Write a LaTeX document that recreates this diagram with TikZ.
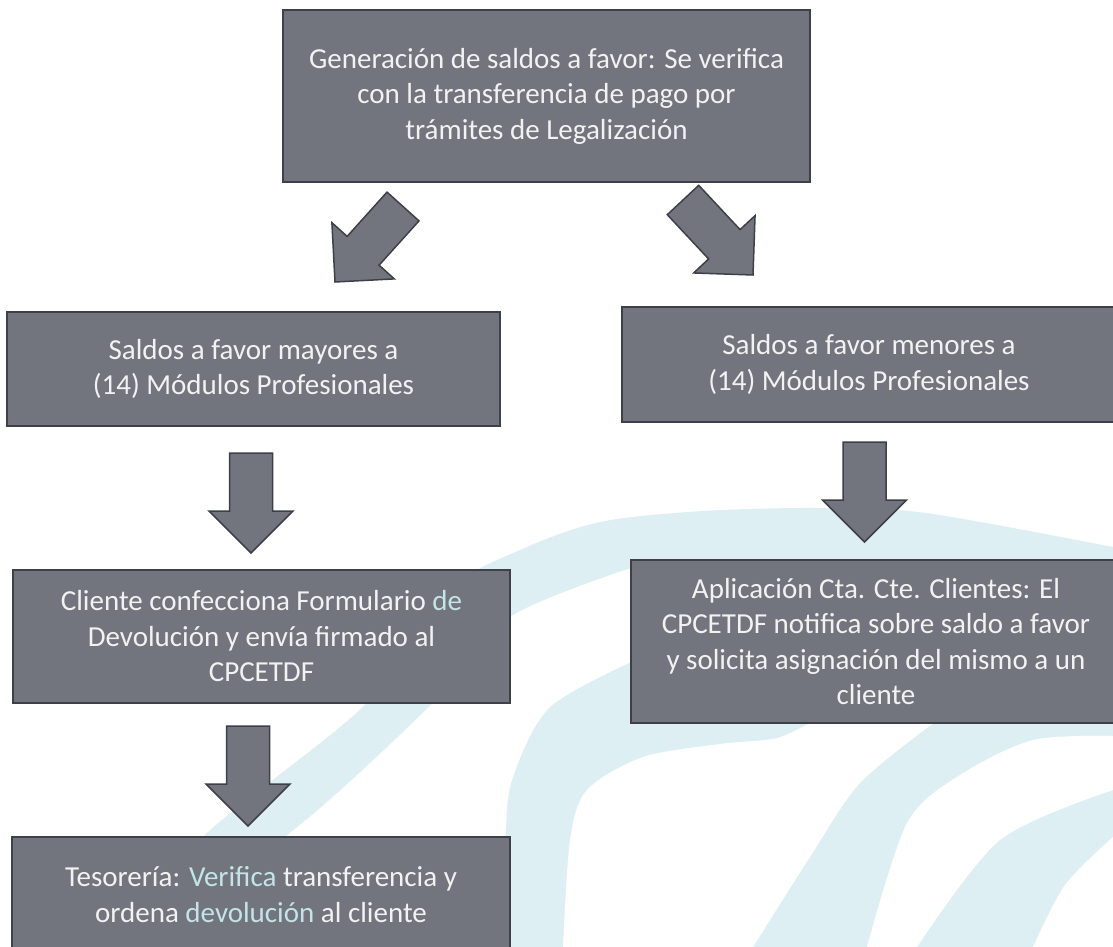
\documentclass[tikz,border=0pt]{standalone}
\usepackage{fontspec}
\setmainfont{Carlito}
\usetikzlibrary{calc}
\definecolor{boxgray}{RGB}{114,117,126}
\definecolor{boxline}{RGB}{62,64,72}
\definecolor{txt}{RGB}{242,242,242}
\definecolor{tint}{RGB}{196,228,232}
\definecolor{wm}{RGB}{221,239,243}
\tikzset{
  stepbox/.style={draw=boxline, line width=1.8pt, fill=boxgray, text=txt,
    align=center, inner sep=0pt, font=\fontsize{29}{35.5}\selectfont},
  blockarr/.style={draw=boxline, line width=1.5pt, fill=boxgray, line join=miter},
  wmark/.style={fill=wm},
}
\newcommand{\blockarrow}[3]{%
  \coordinate (#3h) at ($(#2)!42pt!(#1)$);
  \filldraw[blockarr] ($(#1)!21.5pt!90:(#2)$) -- ($(#3h)!21.5pt!90:(#2)$)
    -- ($(#3h)!42pt!90:(#2)$) -- (#2) -- ($(#3h)!42pt!-90:(#2)$)
    -- ($(#3h)!21.5pt!-90:(#2)$) -- ($(#1)!21.5pt!-90:(#2)$) -- cycle;}
\begin{document}
\begin{tikzpicture}[x=1pt,y=-1pt]
\useasboundingbox (0,0) rectangle (1113,947);
\clip (0,0) rectangle (1113,947);
\fill[white] (0,0) rectangle (1113,947);
% watermark swooshes
\fill[wmark] plot[smooth] coordinates {(100,947) (207,833) (367,703) (450,590) (520,550) (600,522) (703,511) (820,508) (926,513) (1113,547)} -- (1113,947) -- cycle;
\fill[white] plot[smooth] coordinates {(120,947) (290,833) (433,703) (510,617) (640,565)} -- (700,570) -- (700,640) -- plot[smooth] coordinates {(640,658) (550,707) (512,780) (505,840) (495,947)} -- cycle;
\fill[white] plot[smooth] coordinates {(563,947) (570,840) (587,790) (643,757) (720,744) (777,738) (815,720)} -- (930,716) -- plot[smooth] coordinates {(935,722) (860,783) (810,857) (753,947)} -- cycle;
\fill[white] plot[smooth] coordinates {(867,947) (907,823) (960,775) (1033,740) (1113,736)} -- (1113,790) -- plot[smooth] coordinates {(1113,790) (1000,840) (917,947)} -- cycle;
\fill[white] plot[smooth] coordinates {(1033,947) (1065,885) (1113,837)} -- (1113,947) -- cycle;
% boxes
\node[stepbox, minimum width=527pt, minimum height=172pt] (top) at (546.5,96)
  {Generación de saldos a favor: Se verifica\\con la transferencia de pago por\\trámites de Legalización};
\node[stepbox, minimum width=493pt, minimum height=114pt] (lmay) at (253.5,369)
  {Saldos a favor mayores a\\(14) Módulos Profesionales};
\node[stepbox, minimum width=494pt, minimum height=115pt] (rmen) at (869,364.5)
  {Saldos a favor menores a\\(14) Módulos Profesionales};
\node[stepbox, minimum width=497pt, minimum height=133pt] (lcli) at (261.5,636.5)
  {Cliente confecciona Formulario \textcolor{tint}{de}\\Devolución y envía firmado al\\CPCETDF};
\node[stepbox, minimum width=490pt, minimum height=163pt] (rapl) at (876,641.5)
  {Aplicación Cta. Cte. Clientes: El\\CPCETDF notifica sobre saldo a favor\\y solicita asignación del mismo a un\\cliente};
\node[stepbox, minimum width=498pt, minimum height=115pt] (ltes) at (261,894.5)
  {Tesorería: \textcolor{tint}{Verifica} transferencia y\\ordena \textcolor{tint}{devolución} al cliente};
% arrow end points
\coordinate (dls) at (403,206.5);
\coordinate (dlt) at (335,282);
\coordinate (drs) at (683,200);
\coordinate (drt) at (753,275);
\coordinate (d1s) at (251,453);
\coordinate (d1t) at (251,553);
\coordinate (d2s) at (864.5,442);
\coordinate (d2t) at (864.5,542);
\coordinate (d3s) at (248,726);
\coordinate (d3t) at (248,826);
\blockarrow{dls}{dlt}{al}
\blockarrow{drs}{drt}{ar}
\blockarrow{d1s}{d1t}{a1}
\blockarrow{d2s}{d2t}{a2}
\blockarrow{d3s}{d3t}{a3}
\end{tikzpicture}
\end{document}
